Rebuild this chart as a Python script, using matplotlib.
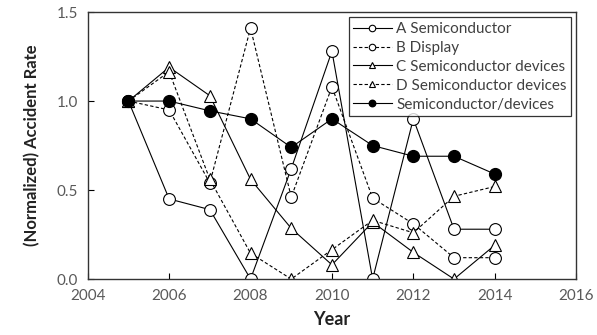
import matplotlib
matplotlib.use('Agg')
import matplotlib.pyplot as plt

plt.rcParams['font.family'] = ['Lato', 'DejaVu Sans']

years = [2005, 2006, 2007, 2008, 2009, 2010, 2011, 2012, 2013, 2014]
a_semi = [1.00, 0.45, 0.39, 0.00, 0.62, 1.28, 0.00, 0.90, 0.28, 0.28]
b_disp = [1.00, 0.95, 0.54, 1.41, 0.46, 1.08, 0.455, 0.31, 0.12, 0.12]
c_dev = [1.00, 1.19, 1.03, 0.56, 0.285, 0.08, 0.32, 0.15, 0.00, 0.19]
d_dev = [1.00, 1.165, 0.56, 0.145, 0.00, 0.165, 0.33, 0.26, 0.465, 0.52]
total = [1.00, 1.00, 0.945, 0.90, 0.74, 0.90, 0.75, 0.69, 0.69, 0.59]

fig = plt.figure(figsize=(5.97, 3.35), dpi=100)
ax = fig.add_axes([0.147, 0.167, 0.818, 0.797])

ms = 8.5
lw = 0.8
ax.plot(years, a_semi, '-', color='black', lw=lw, marker='o', ms=ms,
        mfc='white', mec='black', mew=0.8, label='A Semiconductor')
ax.plot(years, b_disp, '--', color='black', lw=lw, dashes=(3, 2), marker='o', ms=ms,
        mfc='white', mec='black', mew=0.8, label='B Display')
ax.plot(years, c_dev, '-', color='black', lw=lw, marker='^', ms=ms + 0.5,
        mfc='white', mec='black', mew=0.8, label='C Semiconductor devices')
ax.plot(years, d_dev, '--', color='black', lw=lw, dashes=(3, 2), marker='^', ms=ms + 0.5,
        mfc='white', mec='black', mew=0.8, label='D Semiconductor devices')
ax.plot(years, total, '-', color='black', lw=lw, marker='o', ms=ms,
        mfc='black', mec='black', label='Semiconductor/devices')

ax.set_xlim(2004, 2016)
ax.set_ylim(0, 1.5)
ax.set_xticks([2004, 2006, 2008, 2010, 2012, 2014, 2016])
ax.set_yticks([0.0, 0.5, 1.0, 1.5])
ax.set_yticklabels(['0.0', '0.5', '1.0', '1.5'])
ax.tick_params(direction='in', length=4, width=0.8, colors='black',
               labelcolor='#595959', labelsize=11, pad=7)
for s in ax.spines.values():
    s.set_linewidth(1.0)
    s.set_color('#333333')

ax.set_xlabel('Year', fontsize=13, fontweight='bold', color='#222222', labelpad=6)
ax.set_ylabel('(Normalized) Accident Rate', fontsize=12, fontweight='bold',
              color='#222222', labelpad=12)

leg = ax.legend(loc='upper right', bbox_to_anchor=(0.99, 0.98), fontsize=11,
                markerscale=0.55, handlelength=2.5, handletextpad=0.3,
                labelspacing=0.32, borderpad=0.3, frameon=True, fancybox=False,
                edgecolor='black', borderaxespad=0)
leg.get_frame().set_linewidth(0.9)
for t in leg.get_texts():
    t.set_color('#404040')

fig.savefig('out.png', dpi=100)
